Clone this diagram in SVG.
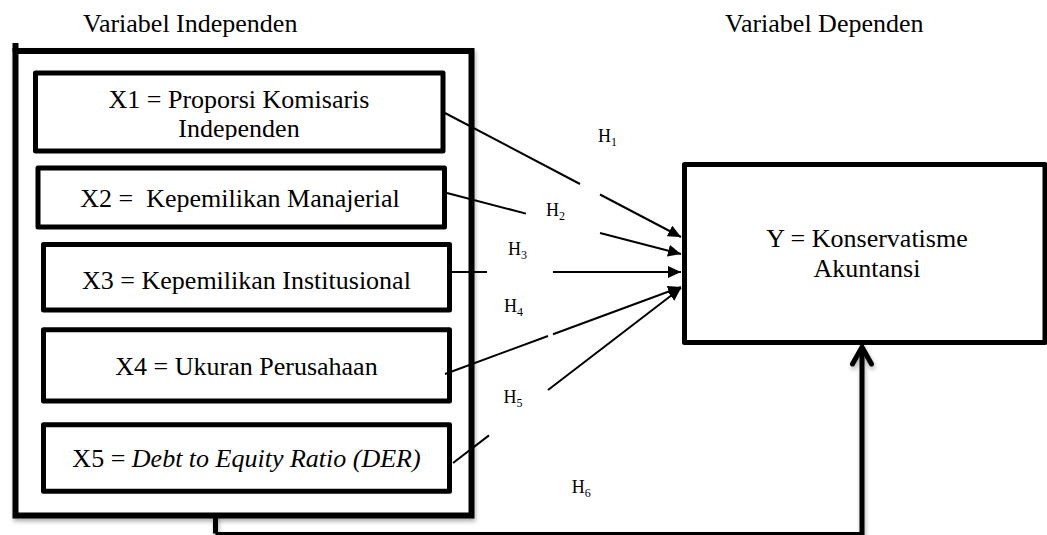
<svg xmlns="http://www.w3.org/2000/svg" width="1047" height="535" viewBox="0 0 1047 535" font-family="'Liberation Serif', 'DejaVu Serif', serif">
<style>
  text { font-family: "Liberation Serif", "DejaVu Serif", serif; fill: #000; }
  .big { font-size: 26px; }
  .h { font-size: 18px; }
  .sub { font-size: 12px; }
  .box { fill: #fff; stroke: #000; stroke-width: 5; stroke-linejoin: round; }
  .outer { fill: #fff; stroke: #000; stroke-width: 6; }
  .conn { fill: none; stroke: #000; stroke-width: 2; }
</style>
<defs>
  <marker id="arr" markerUnits="userSpaceOnUse" markerWidth="14" markerHeight="12" refX="13" refY="6" orient="auto">
    <path d="M0,0 L13,6 L0,12 Z" fill="#000"/>
  </marker>
  <filter id="sh" x="-5%" y="-5%" width="115%" height="115%">
    <feDropShadow dx="1" dy="3" stdDeviation="2" flood-color="#000" flood-opacity="0.3"/>
  </filter>
  <clipPath id="clipX1"><rect x="35" y="75" width="405" height="65"/></clipPath>
</defs>

<g id="headings">
  <text class="big" x="83" y="32">Variabel Independen</text>
  <text class="big" x="725" y="32">Variabel Dependen</text>
</g>

<g id="outer-group">
  <rect class="outer" x="15.5" y="51" width="456" height="464.5" filter="url(#sh)"/>
  <line x1="15.5" y1="43" x2="15.5" y2="52" stroke="#000" stroke-width="6"/>
</g>

<g id="x1">
  <rect class="box" x="35.5" y="73" width="407.5" height="78"/>
  <g clip-path="url(#clipX1)">
    <text class="big" x="239" y="108" text-anchor="middle">X1 = Proporsi Komisaris</text>
    <text class="big" x="239" y="137" text-anchor="middle">Independen</text>
  </g>
</g>

<g id="x2">
  <rect class="box" x="38" y="168" width="406.5" height="59"/>
  <text class="big" x="240" y="207" text-anchor="middle" xml:space="preserve">X2 =  Kepemilikan Manajerial</text>
</g>

<g id="x3">
  <rect class="box" x="43.5" y="244.5" width="406" height="65.5"/>
  <text class="big" x="246.5" y="289" text-anchor="middle">X3 = Kepemilikan Institusional</text>
</g>

<g id="x4">
  <rect class="box" x="43.5" y="329.7" width="406" height="71.3"/>
  <text class="big" x="246.5" y="375" text-anchor="middle">X4 = Ukuran Perusahaan</text>
</g>

<g id="x5">
  <rect class="box" x="43.5" y="424.7" width="406" height="66.6"/>
  <text class="big" x="246.5" y="467" text-anchor="middle">X5 = <tspan font-style="italic">Debt to Equity Ratio (DER)</tspan></text>
</g>

<g id="y">
  <rect class="box" x="684.5" y="164.5" width="360.5" height="178"/>
  <text class="big" x="867" y="247" text-anchor="middle">Y = Konservatisme</text>
  <text class="big" x="867" y="277" text-anchor="middle">Akuntansi</text>
</g>

<g id="connectors">
  <path class="conn" d="M445,113 L580,184 M600,194.5 L681,237" marker-end="url(#arr)"/>
  <path class="conn" d="M447,193 L526,213.6 M600,233 L681,254" marker-end="url(#arr)"/>
  <path class="conn" d="M447,272 L487,272 M553,272 L681,272" marker-end="url(#arr)"/>
  <path class="conn" d="M445,374 L548,336 M553,334.2 L681,287" marker-end="url(#arr)"/>
  <path class="conn" d="M453,463 L489,435.4 M548,390 L681,288" marker-end="url(#arr)"/>
  <g filter="url(#sh)">
    <path d="M215.5,515 L215.5,533.5" fill="none" stroke="#000" stroke-width="5"/>
    <path d="M215.5,533.5 L862,533.5" fill="none" stroke="#000" stroke-width="3"/>
    <path d="M862,535 L862,347" fill="none" stroke="#000" stroke-width="5"/>
    <path d="M852.5,364 L862,347 L871.5,364" fill="none" stroke="#000" stroke-width="5" stroke-linecap="round" stroke-linejoin="miter"/>
  </g>
</g>

<g id="labels">
  <text class="h" x="598" y="141.7">H<tspan class="sub" dy="4">1</tspan></text>
  <text class="h" x="546" y="216">H<tspan class="sub" dy="4">2</tspan></text>
  <text class="h" x="508" y="255">H<tspan class="sub" dy="4">3</tspan></text>
  <text class="h" x="504" y="311.7">H<tspan class="sub" dy="4">4</tspan></text>
  <text class="h" x="503.5" y="403.3">H<tspan class="sub" dy="4">5</tspan></text>
  <text class="h" x="571.7" y="493.3">H<tspan class="sub" dy="4">6</tspan></text>
</g>
</svg>
